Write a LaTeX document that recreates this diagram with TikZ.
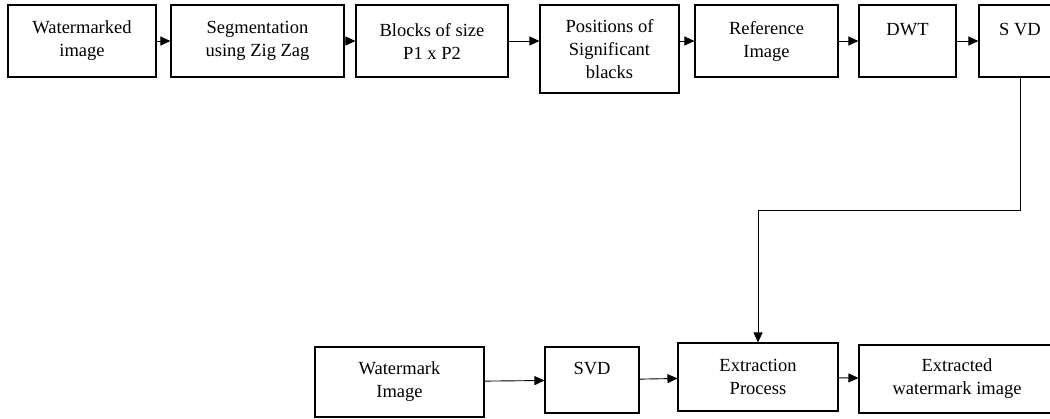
\documentclass[tikz,border=0pt]{standalone}
\usepackage{fontspec}
\setmainfont{Liberation Serif}
\usetikzlibrary{arrows.meta}
\tikzstyle{connector} = [line width=0.9pt,-{Triangle[length=10pt,width=9pt]}]
\tikzstyle{stage} = [rectangle, draw, line width=1.1pt, align=center, inner sep=0pt, font=\fontsize{18.5}{23}\selectfont]

\begin{document}
\begin{tikzpicture}[x=1pt,y=-1pt]
        \useasboundingbox (0,0) rectangle (1050,419);
        % top row
        \node (watermarked) [stage, minimum width=148pt, minimum height=72pt] at (82,41) {Watermarked\\image};
        \node (zigzag) [stage, minimum width=173pt, minimum height=72pt] at (257.5,41) {Segmentation\\using Zig Zag};
        \node (blocks) [stage, minimum width=152pt, minimum height=72pt] at (432,41) {Blocks of size\\P1 x P2};
        \node (positions) [stage, minimum width=139pt, minimum height=88pt] at (609.5,49) {Positions of\\Significant\\blacks};
        \node (reference) [stage, minimum width=143pt, minimum height=72pt] at (766.5,41) {Reference\\Image};
        \node (dwt) [stage, minimum width=97pt, minimum height=72pt] at (907.5,41) {DWT\\\mbox{}};
        \node (svd-1) [stage, minimum width=82pt, minimum height=72pt] at (1020,41) {S VD\\\mbox{}};
        % bottom row
        \node (mark) [stage, minimum width=169pt, minimum height=70pt] at (399.5,382) {Watermark\\Image};
        \node (svd-2) [stage, minimum width=94pt, minimum height=66pt] at (592,380) {SVD\\\mbox{}};
        \node (extraction) [stage, minimum width=160pt, minimum height=68pt] at (758,377) {Extraction\\Process};
        \node (extracted) [stage, minimum width=196pt, minimum height=68pt] at (957,379) {Extracted\\watermark image};
        \coordinate (turn) at (1020,210);
        \draw [connector] (watermarked) -- (zigzag);
        \draw [connector] (zigzag) -- (blocks);
        \draw [connector] (blocks.east) -- (blocks.east -| positions.west);
        \draw [connector] (reference.west -| positions.east) -- (reference.west);
        \draw [connector] (reference) -- (dwt);
        \draw [connector] (dwt) -- (svd-1);
        \draw [connector] (svd-1.south) -- (turn) -| (extraction.north);
        \draw [connector] (mark) -- (svd-2);
        \draw [connector] (svd-2) -- (extraction);
        \draw [connector] (extraction) -- (extracted);
    \end{tikzpicture}
\end{document}
